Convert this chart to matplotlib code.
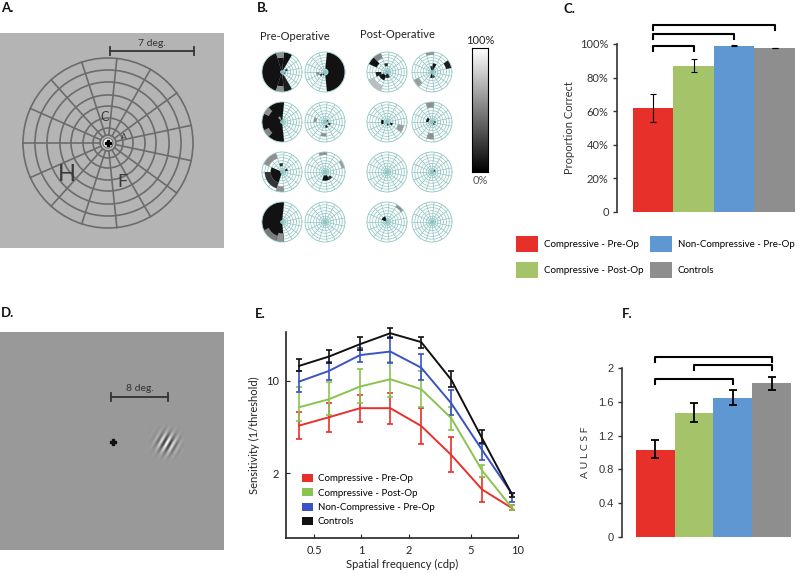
import numpy as np
import matplotlib
matplotlib.use('Agg')
import matplotlib.pyplot as plt
from matplotlib.patches import Circle, Patch

plt.rcParams['font.family'] = ['Lato', 'DejaVu Sans']

W, H = 800, 573

# ---------------- data ----------------
GROUPS = ['Compressive - Pre-Op', 'Compressive - Post-Op',
          'Non-Compressive - Pre-Op', 'Controls']
BAR_COLORS = ['#e8302a', '#a5c46a', '#5f97d3', '#8e8e8e']
LINE_COLORS = ['#e8302a', '#8cc24f', '#3953c4', '#111111']

# C. proportion correct
prop_correct = [0.619, 0.869, 0.990, 0.978]
prop_lo = [0.537, 0.833, 0.986, 0.978]
prop_hi = [0.700, 0.912, 0.994, 0.978]
c_brackets = [(0, 3, 1.113), (0, 2, 1.060), (0, 1, 0.988)]

# E. contrast sensitivity
freq = [0.40, 0.62, 0.98, 1.53, 2.41, 3.75, 5.9, 9.2]
sens_comp_pre = [4.58, 5.30, 6.21, 6.21, 4.55, 2.74, 1.50, 1.08]
sens_comp_pre_lo = [3.61, 4.12, 4.91, 4.72, 3.32, 2.03, 1.21, 1.04]
sens_comp_pre_hi = [5.85, 6.76, 7.83, 8.06, 6.20, 3.73, 1.86, 1.14]
sens_comp_post = [6.31, 7.26, 9.06, 10.3, 8.65, 5.21, 2.09, 1.08]
sens_comp_post_lo = [5.00, 5.50, 6.76, 7.60, 6.38, 4.25, 1.88, 1.04]
sens_comp_post_hi = [8.95, 9.88, 12.3, 14.0, 11.8, 6.38, 2.30, 1.14]
sens_noncomp = [9.88, 11.9, 15.7, 16.7, 12.6, 6.76, 2.99, 1.38]
sens_noncomp_lo = [8.30, 10.2, 14.0, 13.6, 10.2, 5.52, 2.51, 1.21]
sens_noncomp_hi = [11.8, 13.8, 17.7, 21.5, 16.0, 8.55, 3.30, 1.42]
sens_controls = [13.0, 15.3, 19.0, 23.0, 19.7, 10.2, 3.67, 1.36]
sens_controls_lo = [11.8, 13.6, 17.2, 21.1, 17.7, 8.95, 3.36, 1.31]
sens_controls_hi = [14.6, 17.2, 21.5, 25.4, 21.7, 11.8, 4.25, 1.42]

# F. AULCSF
aulcsf = [1.033, 1.464, 1.645, 1.819]
aulcsf_lo = [0.931, 1.361, 1.562, 1.740]
aulcsf_hi = [1.148, 1.589, 1.740, 1.890]
f_brackets = [(0, 3, 2.134), (1, 3, 2.036), (0, 2, 1.866)]

# B. perimetry maps: (sector start, sector end, ring in, ring out, gray level)
PRE_OP_MAPS = [
    [(2, 3, 1, 8, 0), (3, 4, 1, 6, 0), (3, 4, 6, 8, 0.55), (4, 10, 1, 8, 0),
     (10, 11, 1, 6, 0), (10, 11, 6, 8, 0.55), (11, 12, 2, 8, 0.05),
     (0, 1, 2, 3, 0.2), (13, 14, 1, 2, 0.3)],
    [(11, 18, 2, 8, 0), (7, 8, 3, 4, 0.55), (8, 9, 2, 3, 0.2), (9, 10, 1, 2, 0.1)],
    [(3, 11, 1, 8, 0), (5, 6, 6, 8, 0.55), (8, 9, 6, 8, 0.5), (4, 5, 1, 3, 0.6)],
    [(6, 7, 4, 5, 0.55), (10, 11, 5, 6, 0.55), (11, 12, 2, 3, 0),
     (0, 1, 1, 2, 0.1), (13, 14, 2, 3, 0.2)],
    [(6, 10, 1, 5, 0), (7, 10, 5, 7, 0.15), (4, 6, 6, 8, 0.55),
     (10, 11, 6, 8, 0.55), (3, 4, 3, 4, 0.1), (0, 1, 2, 3, 0.1)],
    [(3, 4, 7, 8, 0.55), (0, 1, 7, 8, 0.6), (10, 12, 2, 4, 0), (12, 13, 3, 4, 0.1)],
    [(3, 11, 1, 8, 0), (8, 10, 6, 8, 0.45), (10, 11, 5, 8, 0.55)],
    [],
]
POST_OP_MAPS = [
    [(5, 6, 5, 8, 0), (4, 5, 6, 8, 0.5), (8, 10, 2, 4, 0), (10, 12, 1, 3, 0.1),
     (3, 4, 3, 4, 0.1), (8, 10, 6, 8, 0.75), (7, 8, 3, 5, 0.05)],
    [(3, 4, 7, 8, 0.55), (0, 1, 6, 8, 0.05), (2, 3, 1, 4, 0), (3, 4, 1, 3, 0.1),
     (10, 11, 1, 3, 0), (8, 9, 6, 8, 0.6), (11, 12, 2, 3, 0.2)],
    [(6, 8, 2, 3, 0), (11, 12, 1, 2, 0), (13, 14, 2, 3, 0), (13, 14, 5, 7, 0.6)],
    [(3, 4, 6, 8, 0.55), (10, 11, 5, 7, 0.55), (5, 7, 2, 3, 0),
     (14, 15, 1, 2, 0), (12, 13, 1, 2, 0.1)],
    [],
    [(0, 1, 1, 2, 0)],
    [(1, 2, 7, 8, 0.55), (4, 6, 1, 3, 0)],
    [],
]

RING_EDGES = [0, 0.094, 0.176, 0.294, 0.435, 0.565, 0.718, 0.859, 1.0]
SPOKES = np.arange(12, 372, 24)   # 15 spokes
TEAL = '#8ec3c3'


def px_axes(fig, x, y, w, h, **kw):
    """Add axes from pixel rect (top-left origin)."""
    return fig.add_axes([x / W, 1 - (y + h) / H, w / W, h / H], **kw)


def blank(ax):
    ax.set_xticks([])
    ax.set_yticks([])
    for s in ax.spines.values():
        s.set_visible(False)


fig = plt.figure(figsize=(W / 100, H / 100), dpi=100)

# ---------------- A. grid stimulus ----------------
axA = px_axes(fig, 0, 33, 224, 215)
axA.set_xlim(0, 224)
axA.set_ylim(215, 0)
axA.set_facecolor('#b4b4b4')
blank(axA)
cx, cy, R = 108, 110, 85
for r in RING_EDGES[1:]:
    axA.add_patch(Circle((cx, cy), r * R, fill=False, ec='#6c6c6c', lw=1.2))
for a in SPOKES:
    t = np.deg2rad(a)
    r0 = RING_EDGES[1] * R
    axA.plot([cx + r0 * np.cos(t), cx + R * np.cos(t)],
             [cy - r0 * np.sin(t), cy - R * np.sin(t)], color='#6c6c6c', lw=1.2)
axA.add_patch(Circle((cx, cy), 5, fc='white', ec='#6c6c6c', lw=0.8))
axA.plot(cx, cy, marker='P', ms=5, color='black')
axA.plot([110, 194], [18, 18], color='#333333', lw=1.3)
axA.plot([110, 110], [14, 22], color='#333333', lw=1.3)
axA.plot([194, 194], [14, 22], color='#333333', lw=1.3)
axA.text(152, 11, '7 deg.', ha='center', va='center', fontsize=7.5, color='#333333')
axA.text(105, 84, 'C', ha='center', va='center', fontsize=9, color='#3a3a3a')
axA.text(124, 104, 'A', ha='center', va='center', fontsize=6, color='#3a3a3a')
axA.text(67, 142, 'H', ha='center', va='center', fontsize=17, color='#3a3a3a')
axA.text(122, 149, 'F', ha='center', va='center', fontsize=13, color='#3a3a3a')

# ---------------- B. perimetry maps ----------------
def draw_map(x, y, patches):
    ax = px_axes(fig, x - 20, y - 20, 40, 40, projection='polar')
    ax.set_ylim(0, 1)
    ax.set_facecolor('white')
    for s0, s1, r0, r1, lev in patches:
        a0 = np.deg2rad(12 + 24 * s0)
        a1 = np.deg2rad(12 + 24 * s1)
        ax.bar((a0 + a1) / 2, RING_EDGES[r1] - RING_EDGES[r0], width=a1 - a0,
               bottom=RING_EDGES[r0], color=str(0.07 + 0.9 * lev), lw=0)
    ax.set_rgrids(RING_EDGES[1:-1], labels=[''] * 7)
    ax.set_thetagrids(SPOKES, labels=[''] * len(SPOKES))
    ax.grid(True, color=TEAL, lw=0.5)
    ax.set_axisbelow(True)
    ax.spines['polar'].set_color(TEAL)
    ax.spines['polar'].set_linewidth(0.6)
    ax.tick_params(length=0, pad=0)


map_cols = [282, 325, 387, 432]
map_rows = [72, 122, 172, 222]
for i in range(8):
    r, c = divmod(i, 2)
    draw_map(map_cols[c], map_rows[r], PRE_OP_MAPS[i])
    draw_map(map_cols[c + 2], map_rows[r], POST_OP_MAPS[i])

fig.text(295 / W, 1 - 37 / H, 'Pre-Operative', ha='center', va='center', fontsize=8, color='#222222')
fig.text(397 / W, 1 - 35 / H, 'Post-Operative', ha='center', va='center', fontsize=8, color='#222222')

axCB = px_axes(fig, 472, 48, 16, 124)
axCB.imshow(np.linspace(0, 1, 200)[:, None], cmap='gray', aspect='auto', origin='lower')
axCB.set_xticks([])
axCB.set_yticks([])
for s in axCB.spines.values():
    s.set_linewidth(0.8)
fig.text(480 / W, 1 - 41 / H, '100%', ha='center', va='center', fontsize=8, color='#222222')
fig.text(480 / W, 1 - 181 / H, '0%', ha='center', va='center', fontsize=8, color='#555555')


# ---------------- bar panels C and F ----------------
def bar_panel(ax, vals, lo, hi, brackets, leg, cap, elw, blw):
    x = np.arange(len(vals))
    ax.bar(x, vals, width=1.0, color=BAR_COLORS, lw=0)
    v = np.array(vals)
    yerr = [v - np.array(lo), np.array(hi) - v]
    ax.errorbar(x, vals, yerr=yerr, fmt='none', ecolor='black', elinewidth=elw,
                capsize=cap, capthick=elw)
    for i0, i1, yb in brackets:
        ax.plot([i0, i0, i1, i1], [yb - leg, yb, yb, yb - leg], color='black',
                lw=blw, clip_on=False)
    for s in ['top', 'right', 'bottom']:
        ax.spines[s].set_visible(False)
    ax.spines['left'].set_color('#333333')
    ax.spines['left'].set_linewidth(1.2)
    ax.set_xticks([])
    ax.tick_params(axis='y', direction='out', length=3, width=1, colors='#333333',
                   labelsize=8, pad=3)


axC = px_axes(fig, 617, 44, 180, 168)
bar_panel(axC, prop_correct, prop_lo, prop_hi, c_brackets, 0.03, 2.5, 0.8, 1.5)
axC.set_xlim(-0.89, 3.55)
axC.set_ylim(0, 1)
axC.set_yticks([0, 0.2, 0.4, 0.6, 0.8, 1.0])
axC.set_yticklabels(['0', '20%', '40%', '60%', '80%', '100%'])
axC.set_ylabel('Proportion Correct', fontsize=8, color='#333333', labelpad=4)

handles = [Patch(color=c, lw=0) for c in BAR_COLORS]
fig.legend(handles, GROUPS, ncol=2, loc='upper left',
           bbox_to_anchor=(516 / W, 1 - 236 / H), frameon=False, fontsize=7.0,
           handlelength=2.3, handleheight=2.1, labelspacing=1.1,
           handletextpad=0.6, columnspacing=0.6, borderpad=0, borderaxespad=0)

axF = px_axes(fig, 622, 368, 170, 169)
bar_panel(axF, aulcsf, aulcsf_lo, aulcsf_hi, f_brackets, 0.06, 3, 1.3, 1.5)
axF.set_xlim(-0.866, 3.53)
axF.set_ylim(0, 2)
axF.set_yticks([0, 0.4, 0.8, 1.2, 1.6, 2.0])
axF.set_yticklabels(['0', '0.4', '0.8', '1.2', '1.6', '2'])
for t in axF.get_yticklabels():
    t.set_family(['Liberation Sans', 'DejaVu Sans'])
axF.set_ylabel('A U L C S F', fontsize=7.5, color='#333333', labelpad=6)

# ---------------- D. grating stimulus ----------------
axD = px_axes(fig, 0, 332, 224, 218)
axD.set_xlim(0, 224)
axD.set_ylim(218, 0)
axD.set_facecolor('#999999')
blank(axD)
axD.plot([111, 168], [65, 65], color='#333333', lw=1.3)
axD.plot([111, 111], [61, 69], color='#333333', lw=1.3)
axD.plot([168, 168], [61, 69], color='#333333', lw=1.3)
axD.text(140, 56, '8 deg.', ha='center', va='center', fontsize=7.5, color='#333333')
axD.plot(113, 110, marker='P', ms=5, color='#111111')
g = np.linspace(-1, 1, 80)
xx, yy = np.meshgrid(g, g)
carrier = np.cos(2 * np.pi * 3.0 * (0.866 * xx + 0.5 * yy))
env = np.exp(-(xx ** 2 + yy ** 2) / (2 * 0.38 ** 2))
base = 0x99 / 255
axD.imshow(base + 0.42 * carrier * env, cmap='gray', vmin=0, vmax=1,
           extent=(149, 185, 129, 93), interpolation='bilinear')
axD.set_xlim(0, 224)
axD.set_ylim(218, 0)

# ---------------- E. contrast sensitivity ----------------
axE = px_axes(fig, 286, 332, 232, 206)
series = [
    (sens_comp_pre, sens_comp_pre_lo, sens_comp_pre_hi),
    (sens_comp_post, sens_comp_post_lo, sens_comp_post_hi),
    (sens_noncomp, sens_noncomp_lo, sens_noncomp_hi),
    (sens_controls, sens_controls_lo, sens_controls_hi),
]
for (c, lo, hi), col in zip(series, LINE_COLORS):
    c = np.array(c)
    axE.errorbar(freq, c, yerr=[c - np.array(lo), np.array(hi) - c], color=col,
                 lw=1.4, elinewidth=1.2, capsize=2.2, capthick=1.2, clip_on=False)
axE.set_xscale('log')
axE.set_yscale('log')
axE.set_xlim(0.33, 10)
axE.set_ylim(0.643, 23.5)
axE.set_xticks([0.5, 1, 2, 5, 10])
axE.set_xticklabels(['0.5', '1', '2', '5', '10'])
axE.set_yticks([2, 10])
axE.set_yticklabels(['2', '10'])
axE.minorticks_off()
for s in ['top', 'right']:
    axE.spines[s].set_visible(False)
for s in ['left', 'bottom']:
    axE.spines[s].set_linewidth(1.2)
    axE.spines[s].set_color('#222222')
axE.tick_params(direction='in', length=3, labelsize=8, colors='#222222', pad=5)
axE.set_xlabel('Spatial frequency (cdp)', fontsize=8, color='#222222', labelpad=2)
axE.set_ylabel('Sensitivity (1/threshold)', fontsize=8, color='#222222', labelpad=4)
leg_handles = [Patch(color=c, lw=0) for c in LINE_COLORS]
axE.legend(leg_handles, GROUPS, loc='upper left',
           bbox_to_anchor=((302 - 286) / 232, 1 - (474 - 332) / 206),
           frameon=False, fontsize=7, handlelength=1.1, handleheight=0.9,
           labelspacing=0.5, handletextpad=0.5, borderpad=0, borderaxespad=0)

# ---------------- panel letters ----------------
for lab, x, y in [('A.', 1, 8), ('B.', 257, 8), ('C.', 563, 9),
                  ('D.', 1, 313), ('E.', 255, 314), ('F.', 622, 314)]:
    fig.text(x / W, 1 - y / H, lab, ha='left', va='center', fontsize=9.5,
             fontweight='bold', color='#111111')

fig.savefig('out.png', dpi=100)
